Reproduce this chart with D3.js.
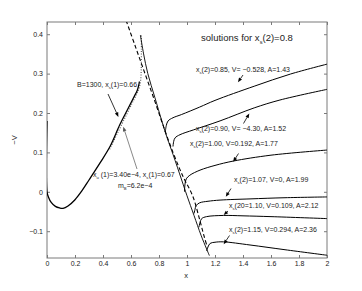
<!DOCTYPE html>
<html>
<head>
<meta charset="utf-8">
<script src="https://cdn.jsdelivr.net/npm/d3@7"></script>
<style>
  body { margin: 0; background: #fff; }
  svg { display: block; font-family: "Liberation Sans", Arial, sans-serif; }
</style>
</head>
<body>
<svg id="canvas"></svg>
<script>
let width = 362;
let height = 291;
let margin = { left: 47, right: 35, top: 22, bottom: 33 };

// curve data (x, -V)
const b1300X = [0, 0, 0.01, 0.03, 0.06, 0.09, 0.115, 0.15, 0.2, 0.25, 0.3, 0.38, 0.45, 0.52, 0.58, 0.62, 0.645, 0.655, 0.66];
const b1300V = [0.18, 0.0, -0.013, -0.027, -0.037, -0.041, -0.042, -0.036, -0.02, 0.003, 0.03, 0.074, 0.115, 0.17, 0.212, 0.24, 0.258, 0.27, 0.28];

const dottedX = [0.44, 0.5, 0.56, 0.61, 0.645, 0.66, 0.665, 0.666, 0.666];
const dottedV = [0.108, 0.152, 0.196, 0.232, 0.258, 0.28, 0.31, 0.36, 0.398];

const steepX = [0.667, 0.69, 0.72, 0.77, 0.82, 0.86, 0.9, 0.962, 1.0, 1.05, 1.1, 1.14, 1.16];
const steepV = [0.398, 0.35, 0.3, 0.24, 0.18, 0.135, 0.095, 0.03, -0.01, -0.06, -0.11, -0.145, -0.162];

const dashX = [0.565, 0.63, 0.7, 0.77, 0.83, 0.9, 0.97, 1.04, 1.09, 1.12, 1.145];
const dashV = [0.435, 0.37, 0.3, 0.23, 0.168, 0.1, 0.04, -0.01, -0.07, -0.11, -0.14];

const c085X = [0.845, 0.852, 0.865, 0.9, 0.96, 1.09, 1.2, 1.48, 1.74, 2];
const c085V = [0.152, 0.168, 0.18, 0.188, 0.196, 0.215, 0.232, 0.268, 0.299, 0.324];

const c090X = [0.9, 0.905, 0.915, 0.95, 1.045, 1.236, 1.48, 1.664, 2];
const c090V = [0.115, 0.128, 0.137, 0.145, 0.157, 0.18, 0.213, 0.233, 0.26];

const c100X = [0.982, 0.986, 0.995, 1.02, 1.093, 1.2, 1.33, 1.6, 2];
const c100V = [0.0, 0.02, 0.033, 0.042, 0.055, 0.067, 0.078, 0.093, 0.106];

const c107X = [1.05, 1.057, 1.065, 1.09, 1.15, 1.236, 1.45, 1.7, 2];
const c107V = [-0.055, -0.045, -0.035, -0.028, -0.024, -0.021, -0.018, -0.015, -0.013];

const c110X = [1.085, 1.093, 1.105, 1.14, 1.26, 1.4, 1.6, 2];
const c110V = [-0.09, -0.078, -0.068, -0.063, -0.06, -0.061, -0.063, -0.068];

const c115X = [1.14, 1.15, 1.165, 1.2, 1.26, 1.45, 1.7, 2];
const c115V = [-0.15, -0.14, -0.131, -0.128, -0.127, -0.135, -0.147, -0.161];

const xTicks = [0, 0.2, 0.4, 0.6, 0.8, 1, 1.2, 1.4, 1.6, 1.8, 2];
const yTicks = [-0.1, 0, 0.1, 0.2, 0.3, 0.4];

let canvas = d3.select('#canvas').attr('width', width).attr('height', height);

let xScale = d3.scaleLinear().domain([0, 2]).range([margin.left, width - margin.right]);
let yScale = d3.scaleLinear().domain([-0.168, 0.431]).range([height - margin.bottom, margin.top]);

let axisColor = '#7a7a7a';
let textColor = '#222';

let zip = (xs, vs) => xs.map((x, i) => [x, vs[i]]);
let lineCR = d3.line().x((d) => xScale(d[0])).y((d) => yScale(d[1])).curve(d3.curveCatmullRom.alpha(0.5));

let drawAxes = () => {
    let x0 = margin.left, x1 = width - margin.right;
    let y0 = height - margin.bottom, y1 = margin.top;

    let bottom = d3.axisBottom(xScale).tickValues(xTicks).tickSize(-3).tickPadding(3).tickFormat(d3.format('~g'));
    let top = d3.axisTop(xScale).tickValues(xTicks).tickSize(-3).tickFormat('');
    let left = d3.axisLeft(yScale).tickValues(yTicks).tickSize(-3).tickPadding(4)
        .tickFormat((d) => d3.format('~g')(d).replace('-', '\u2212'));
    let right = d3.axisRight(yScale).tickValues(yTicks).tickSize(-3).tickFormat('');

    canvas.append('g').attr('id', 'x-axis').attr('transform', `translate(0, ${y0})`).call(bottom);
    canvas.append('g').attr('transform', `translate(0, ${y1})`).call(top);
    canvas.append('g').attr('id', 'y-axis').attr('transform', `translate(${x0}, 0)`).call(left);
    canvas.append('g').attr('transform', `translate(${x1}, 0)`).call(right);

    canvas.selectAll('.domain').remove();
    canvas.selectAll('.tick line').attr('stroke', axisColor);
    canvas.selectAll('.tick text').attr('fill', textColor).style('font-size', '7px')
        .style('font-family', '"Liberation Sans", Arial, sans-serif');

    canvas.append('rect')
        .attr('x', x0).attr('y', y1)
        .attr('width', x1 - x0).attr('height', y0 - y1)
        .attr('fill', 'none').attr('stroke', axisColor).attr('stroke-width', 1);

    canvas.append('text').attr('x', xScale(1) - 1).attr('y', 278)
        .attr('text-anchor', 'middle').attr('fill', textColor).style('font-size', '7.5px').text('x');
    canvas.append('text').attr('transform', `translate(17, ${(y0 + y1) / 2}) rotate(-90)`)
        .attr('text-anchor', 'middle').attr('fill', textColor).style('font-size', '7.5px').text('\u2212V');
};

let drawCurves = () => {
    let plot = canvas.append('g');
    plot.append('clipPath').attr('id', 'clip').append('rect')
        .attr('x', margin.left).attr('y', margin.top)
        .attr('width', width - margin.left - margin.right)
        .attr('height', height - margin.top - margin.bottom);
    let g = plot.append('g').attr('clip-path', 'url(#clip)');

    g.append('path').attr('d', lineCR(zip(dottedX, dottedV).map((d) => [d[0] + 0.008, d[1]])))
        .attr('fill', 'none').attr('stroke', '#555').attr('stroke-width', 1.1)
        .attr('stroke-dasharray', '1,1.6');

    g.append('path').attr('d', lineCR(zip(b1300X, b1300V)))
        .attr('fill', 'none').attr('stroke', '#000').attr('stroke-width', 1.3);

    g.append('path').attr('d', lineCR(zip(dashX, dashV)))
        .attr('fill', 'none').attr('stroke', '#000').attr('stroke-width', 1.1)
        .attr('stroke-dasharray', '4,2.5');

    g.append('path').attr('d', lineCR(zip(steepX, steepV)))
        .attr('fill', 'none').attr('stroke', '#000').attr('stroke-width', 0.9);

    [[c085X, c085V], [c090X, c090V], [c100X, c100V], [c107X, c107V], [c110X, c110V], [c115X, c115V]]
        .forEach(([xs, vs]) => {
            g.append('path').attr('d', lineCR(zip(xs, vs)))
                .attr('fill', 'none').attr('stroke', '#000').attr('stroke-width', 1);
        });
};

let arrow = (fx, fy, tx, ty, color, w) => {
    let dx = tx - fx, dy = ty - fy;
    let len = Math.sqrt(dx * dx + dy * dy);
    let ux = dx / len, uy = dy / len;
    let hl = 4.5, hw = 1.8;
    let bx = tx - ux * hl, by = ty - uy * hl;
    canvas.append('line').attr('x1', fx).attr('y1', fy).attr('x2', bx).attr('y2', by)
        .attr('stroke', color).attr('stroke-width', w);
    canvas.append('polygon')
        .attr('points', [[tx, ty], [bx - uy * hw, by + ux * hw], [bx + uy * hw, by - ux * hw]].map((p) => p.join(',')).join(' '))
        .attr('fill', color);
};

// label: pieces of [text, isSub, back-to-baseline]
let label = (x, y, parts, size, anchor) => {
    let t = canvas.append('text').attr('x', x).attr('y', y).attr('fill', textColor)
        .style('font-size', size + 'px').attr('text-anchor', anchor || 'start');
    parts.forEach((p) => {
        if (p[1]) {
            t.append('tspan').attr('dy', size * 0.3).style('font-size', (size * 0.6) + 'px').text(p[0]);
        } else {
            let s = t.append('tspan').text(p[0]);
            if (p[2]) s.attr('dy', -size * 0.3);
        }
    });
};

let drawLabels = () => {
    label(201, 41, [['solutions for x'], ['s', 1], ['(2)=0.8', 0, 1]], 9.5);

    label(196, 72, [['x'], ['s', 1], ['(2)=0.85, V= \u22120.528, A=1.43', 0, 1]], 7);
    arrow(243, 75, xScale(1.364), yScale(0.278), '#000', 0.8);

    label(196, 131, [['x'], ['s', 1], ['(2)=0.90, V= \u22124.30, A=1.52', 0, 1]], 7);
    arrow(243.5, 123.5, xScale(1.445), yScale(0.199), '#000', 0.8);

    label(190, 146, [['x'], ['s', 1], ['(2)=1.00, V=0.192, A=1.77', 0, 1]], 7);
    arrow(238.5, 153.5, xScale(1.33), yScale(0.076), '#000', 0.8);

    label(234, 182, [['x'], ['s', 1], ['(2)=1.07, V=0, A=1.99', 0, 1]], 7);
    arrow(231, 188.5, xScale(1.277), yScale(-0.0128), '#000', 0.8);

    label(229, 208, [['x'], ['s', 1], ['(20=1.10, V=0.109, A=2.12', 0, 1]], 7);
    arrow(228, 211, xScale(1.262), yScale(-0.059), '#000', 0.8);

    label(229, 232, [['x'], ['s', 1], ['(2)=1.15, V=0.294, A=2.36', 0, 1]], 7);
    arrow(229.5, 235.5, xScale(1.262), yScale(-0.133), '#000', 0.8);

    label(77, 87, [['B=1300, x'], ['s', 1], ['(1)=0.66', 0, 1]], 7);
    arrow(108, 94, xScale(0.51), yScale(0.19), '#000', 0.8);

    label(93, 177, [['x'], ['u', 1], [' (1)=3.40e\u22124, x', 0, 1], ['s', 1], ['(1)=0.67', 0, 1]], 7);
    label(118, 188, [['m'], ['B', 1], ['=6.2e\u22124', 0, 1]], 7);
    arrow(137, 169, xScale(0.545), yScale(0.165), '#555', 0.7);
};

drawAxes();
drawCurves();
drawLabels();
</script>
</body>
</html>
